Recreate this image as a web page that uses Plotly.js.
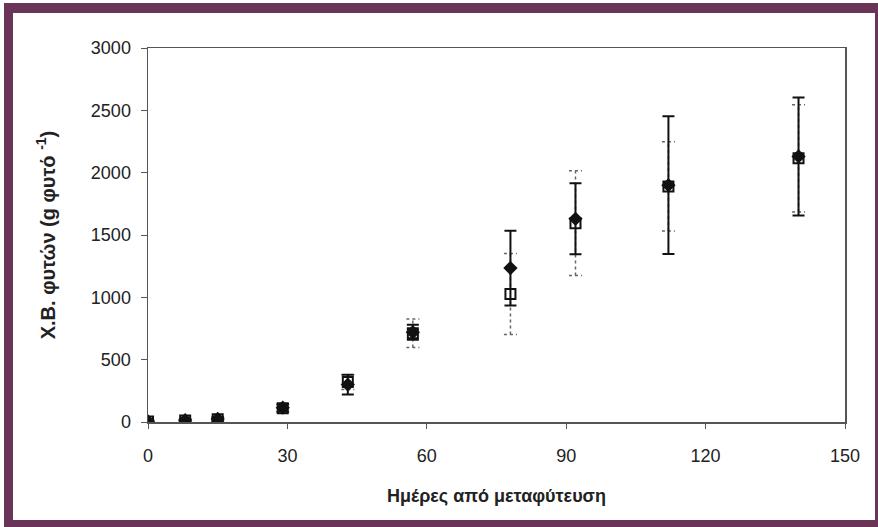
<!DOCTYPE html>
<html>
<head>
<meta charset="utf-8">
<script src="https://cdn.plot.ly/plotly-3.0.1.min.js"></script>
<style>
html,body{margin:0;padding:0;background:#fff;}
#frame{position:absolute;left:4px;top:3px;width:874px;height:524px;box-sizing:border-box;border-left:9px solid #6a3459;border-top:10px solid #6a3459;border-bottom:7px solid #6a3459;border-right:3px solid #6a3459;}
#chart{position:absolute;left:0;top:0;width:878px;height:527px;}
</style>
</head>
<body>
<div id="chart"></div>
<div id="frame"></div>
<script>
// Days after transplanting
var days = [0, 8, 15, 29, 43, 57, 78, 92, 112, 140];
// Series A (filled diamonds, solid error bars)
var seriesA = [5, 15, 25, 115, 300, 720, 1235, 1630, 1900, 2130];
var errA = [10, 10, 15, 30, 80, 60, 300, 285, 553, 473];
// Series B (open squares, dotted error bars)
var seriesB = [5, 12, 22, 110, 320, 712, 1027, 1595, 1890, 2115];
var errB = [10, 10, 15, 30, 60, 115, 325, 420, 357, 430];
var xTicks = [0, 30, 60, 90, 120, 150];
var yTicks = [0, 500, 1000, 1500, 2000, 2500, 3000];

// dotted error bars for series B built from the data arrays
var capHalf = 1.4;
var ex = [], ey = [];
for (var i = 0; i < days.length; i++) {
  var lo = seriesB[i] - errB[i], hi = seriesB[i] + errB[i];
  ex.push(days[i], days[i], null);
  ey.push(lo, hi, null);
  ex.push(days[i] - capHalf, days[i] + capHalf, null);
  ey.push(hi, hi, null);
  ex.push(days[i] - capHalf, days[i] + capHalf, null);
  ey.push(lo, lo, null);
}

var traces = [
  {x: ex, y: ey, mode: 'lines', type: 'scatter', hoverinfo: 'skip',
   line: {color: '#666', width: 1.5, dash: 'dot'}, showlegend: false},
  {x: days, y: seriesB, mode: 'markers', type: 'scatter', name: 'B',
   marker: {symbol: 'square', size: 10, color: '#fff', line: {color: '#111', width: 2}}},
  {x: days, y: seriesA, mode: 'markers', type: 'scatter', name: 'A',
   marker: {symbol: 'diamond', size: 11, color: '#111'},
   error_y: {type: 'data', array: errA, visible: true, color: '#111', thickness: 2, width: 6}}
];

var layout = {
  width: 878, height: 527,
  margin: {l: 148, r: 33, t: 48, b: 105},
  paper_bgcolor: '#fff', plot_bgcolor: '#fff',
  showlegend: false,
  font: {family: 'Liberation Sans, Arial, sans-serif', size: 17, color: '#222'},
  xaxis: {
    range: [0, 150], tickvals: xTicks, ticktext: xTicks.map(String),
    showgrid: false, zeroline: false, showline: true, mirror: true,
    linecolor: '#555', linewidth: 1.5, ticks: 'outside', ticklen: 5, tickcolor: '#555',
    ticklabelstandoff: 12,
    tickfont: {size: 18, color: '#222'},
    title: {text: '<b>Ημέρες από μεταφύτευση</b>', font: {size: 18, color: '#222'}, standoff: 24}
  },
  yaxis: {
    range: [0, 3000], tickvals: yTicks, ticktext: yTicks.map(String),
    showgrid: false, zeroline: false, showline: true, mirror: true,
    linecolor: '#555', linewidth: 1.5, ticks: 'outside', ticklen: 6, tickcolor: '#555',
    ticklabelstandoff: 6,
    tickfont: {size: 18, color: '#222'},
    title: {text: '<b>Χ.Β. φυτών (g φυτό <sup>-1</sup>)</b>', font: {size: 20, color: '#222'}, standoff: 30}
  }
};

Plotly.newPlot('chart', traces, layout, {displayModeBar: false, staticPlot: true});
</script>
</body>
</html>
